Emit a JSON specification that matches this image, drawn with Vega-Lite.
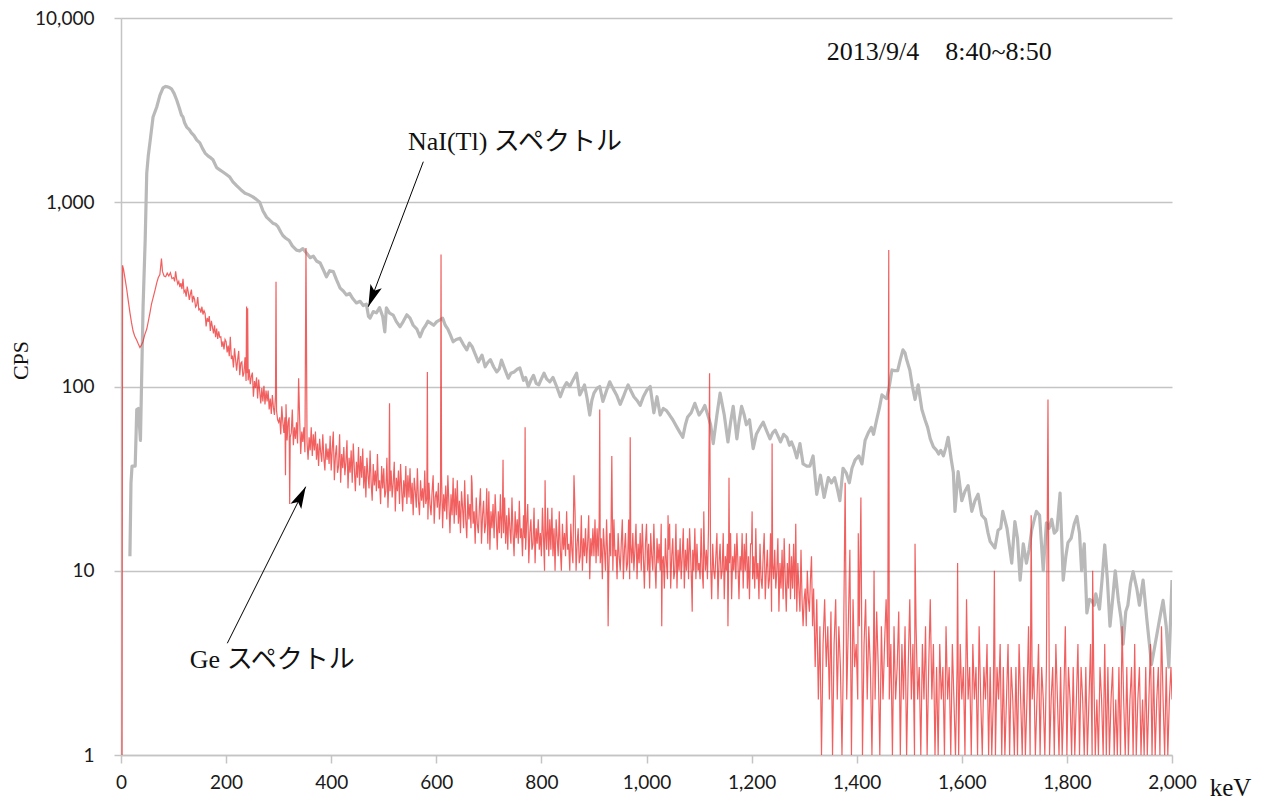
{
  "$schema": "https://vega.github.io/schema/vega-lite/v6.json",
  "width": 1051,
  "height": 737,
  "autosize": {"type": "none"},
  "padding": {"left": 121, "top": 18, "right": 94, "bottom": 50},
  "background": "white",
  "config": {"view": {"stroke": null}},
  "datasets": {
    "nai": [
      {"keV":17,"cps":12},{"keV":19,"cps":30},{"keV":21,"cps":37},{"keV":27,"cps":37},{"keV":30,"cps":75},{"keV":33,"cps":76},{"keV":37,"cps":51},{"keV":39,"cps":100},{"keV":42,"cps":270},{"keV":46,"cps":620},{"keV":49,"cps":1440},{"keV":52,"cps":1800},{"keV":55,"cps":2100},{"keV":61,"cps":2900},{"keV":68,"cps":3290},{"keV":74,"cps":3800},{"keV":80,"cps":4170},{"keV":85,"cps":4250},{"keV":89,"cps":4230},{"keV":93,"cps":4180},{"keV":96,"cps":4130},{"keV":101,"cps":3900},{"keV":106,"cps":3590},{"keV":111,"cps":3250},{"keV":115,"cps":2975},{"keV":118,"cps":2900},{"keV":121,"cps":2700},{"keV":125,"cps":2560},{"keV":130,"cps":2480},{"keV":134,"cps":2380},{"keV":139,"cps":2300},{"keV":144,"cps":2180},{"keV":150,"cps":2100},{"keV":155,"cps":1960},{"keV":160,"cps":1850},{"keV":166,"cps":1780},{"keV":171,"cps":1740},{"keV":175,"cps":1700},{"keV":182,"cps":1540},{"keV":188,"cps":1500},{"keV":194,"cps":1460},{"keV":200,"cps":1420},{"keV":207,"cps":1370},{"keV":213,"cps":1290},{"keV":220,"cps":1230},{"keV":228,"cps":1170},{"keV":236,"cps":1120},{"keV":243,"cps":1100},{"keV":251,"cps":1070},{"keV":257,"cps":1040},{"keV":264,"cps":1000},{"keV":270,"cps":900},{"keV":277,"cps":830},{"keV":283,"cps":800},{"keV":289,"cps":770},{"keV":294,"cps":760},{"keV":299,"cps":735},{"keV":304,"cps":690},{"keV":308,"cps":660},{"keV":313,"cps":640},{"keV":320,"cps":620},{"keV":326,"cps":580},{"keV":334,"cps":550},{"keV":340,"cps":545},{"keV":346,"cps":560},{"keV":353,"cps":530},{"keV":360,"cps":500},{"keV":366,"cps":510},{"keV":372,"cps":480},{"keV":379,"cps":468},{"keV":385,"cps":430},{"keV":391,"cps":394},{"keV":397,"cps":425},{"keV":404,"cps":420},{"keV":410,"cps":380},{"keV":417,"cps":342},{"keV":423,"cps":330},{"keV":429,"cps":314},{"keV":435,"cps":320},{"keV":441,"cps":300},{"keV":448,"cps":284},{"keV":455,"cps":290},{"keV":461,"cps":275},{"keV":467,"cps":280},{"keV":471,"cps":240},{"keV":474,"cps":235},{"keV":480,"cps":255},{"keV":486,"cps":251},{"keV":492,"cps":268},{"keV":498,"cps":240},{"keV":502,"cps":198},{"keV":505,"cps":267},{"keV":511,"cps":250},{"keV":518,"cps":244},{"keV":524,"cps":225},{"keV":531,"cps":211},{"keV":537,"cps":225},{"keV":544,"cps":245},{"keV":550,"cps":235},{"keV":556,"cps":215},{"keV":563,"cps":205},{"keV":569,"cps":186},{"keV":575,"cps":205},{"keV":580,"cps":215},{"keV":584,"cps":226},{"keV":590,"cps":220},{"keV":595,"cps":215},{"keV":601,"cps":225},{"keV":607,"cps":230},{"keV":612,"cps":235},{"keV":617,"cps":215},{"keV":622,"cps":205},{"keV":627,"cps":190},{"keV":632,"cps":175},{"keV":638,"cps":180},{"keV":645,"cps":183},{"keV":651,"cps":170},{"keV":658,"cps":158},{"keV":663,"cps":172},{"keV":668,"cps":165},{"keV":674,"cps":150},{"keV":680,"cps":136},{"keV":687,"cps":148},{"keV":693,"cps":128},{"keV":698,"cps":135},{"keV":703,"cps":140},{"keV":709,"cps":128},{"keV":715,"cps":120},{"keV":720,"cps":125},{"keV":724,"cps":139},{"keV":730,"cps":125},{"keV":737,"cps":111},{"keV":742,"cps":118},{"keV":748,"cps":120},{"keV":754,"cps":124},{"keV":759,"cps":126},{"keV":766,"cps":108},{"keV":770,"cps":112},{"keV":775,"cps":100},{"keV":780,"cps":108},{"keV":785,"cps":115},{"keV":790,"cps":104},{"keV":795,"cps":102},{"keV":800,"cps":110},{"keV":805,"cps":118},{"keV":810,"cps":110},{"keV":816,"cps":106},{"keV":822,"cps":112},{"keV":829,"cps":100},{"keV":836,"cps":88},{"keV":842,"cps":98},{"keV":848,"cps":105},{"keV":854,"cps":100},{"keV":860,"cps":108},{"keV":867,"cps":118},{"keV":873,"cps":90},{"keV":878,"cps":96},{"keV":882,"cps":102},{"keV":887,"cps":86},{"keV":892,"cps":70},{"keV":896,"cps":84},{"keV":900,"cps":92},{"keV":906,"cps":98},{"keV":911,"cps":100},{"keV":917,"cps":83},{"keV":924,"cps":95},{"keV":930,"cps":106},{"keV":936,"cps":98},{"keV":943,"cps":90},{"keV":950,"cps":80},{"keV":956,"cps":88},{"keV":961,"cps":96},{"keV":965,"cps":102},{"keV":971,"cps":94},{"keV":976,"cps":88},{"keV":982,"cps":84},{"keV":988,"cps":79},{"keV":994,"cps":88},{"keV":1001,"cps":96},{"keV":1007,"cps":100},{"keV":1014,"cps":72},{"keV":1020,"cps":88},{"keV":1026,"cps":70},{"keV":1032,"cps":76},{"keV":1038,"cps":74},{"keV":1044,"cps":70},{"keV":1050,"cps":66},{"keV":1058,"cps":60},{"keV":1064,"cps":56},{"keV":1069,"cps":53},{"keV":1074,"cps":62},{"keV":1078,"cps":68},{"keV":1085,"cps":72},{"keV":1092,"cps":81},{"keV":1100,"cps":70},{"keV":1106,"cps":74},{"keV":1111,"cps":79},{"keV":1118,"cps":68},{"keV":1122,"cps":62},{"keV":1127,"cps":49},{"keV":1134,"cps":70},{"keV":1140,"cps":92},{"keV":1148,"cps":70},{"keV":1155,"cps":50},{"keV":1160,"cps":64},{"keV":1165,"cps":78},{"keV":1172,"cps":52},{"keV":1176,"cps":64},{"keV":1181,"cps":78},{"keV":1186,"cps":70},{"keV":1190,"cps":62},{"keV":1196,"cps":66},{"keV":1203,"cps":46},{"keV":1209,"cps":55},{"keV":1216,"cps":60},{"keV":1222,"cps":64},{"keV":1228,"cps":58},{"keV":1235,"cps":52},{"keV":1240,"cps":56},{"keV":1245,"cps":58},{"keV":1250,"cps":54},{"keV":1255,"cps":50},{"keV":1261,"cps":55},{"keV":1267,"cps":53},{"keV":1272,"cps":48},{"keV":1276,"cps":50},{"keV":1281,"cps":46},{"keV":1286,"cps":41},{"keV":1292,"cps":49},{"keV":1298,"cps":38},{"keV":1305,"cps":37},{"keV":1311,"cps":37},{"keV":1317,"cps":42},{"keV":1324,"cps":26},{"keV":1331,"cps":33},{"keV":1338,"cps":25},{"keV":1346,"cps":32},{"keV":1352,"cps":30},{"keV":1358,"cps":32},{"keV":1363,"cps":28},{"keV":1368,"cps":24},{"keV":1374,"cps":36},{"keV":1380,"cps":34},{"keV":1386,"cps":30},{"keV":1391,"cps":36},{"keV":1397,"cps":40},{"keV":1404,"cps":42},{"keV":1410,"cps":38},{"keV":1416,"cps":51},{"keV":1422,"cps":56},{"keV":1428,"cps":60},{"keV":1432,"cps":55},{"keV":1438,"cps":66},{"keV":1443,"cps":76},{"keV":1448,"cps":90},{"keV":1452,"cps":88},{"keV":1457,"cps":86},{"keV":1462,"cps":100},{"keV":1467,"cps":123},{"keV":1472,"cps":122},{"keV":1478,"cps":122},{"keV":1483,"cps":140},{"keV":1488,"cps":158},{"keV":1492,"cps":152},{"keV":1495,"cps":140},{"keV":1501,"cps":123},{"keV":1506,"cps":100},{"keV":1511,"cps":85},{"keV":1517,"cps":102},{"keV":1524,"cps":75},{"keV":1530,"cps":66},{"keV":1535,"cps":60},{"keV":1540,"cps":52},{"keV":1546,"cps":47},{"keV":1552,"cps":45},{"keV":1556,"cps":43},{"keV":1560,"cps":45},{"keV":1565,"cps":42},{"keV":1570,"cps":47},{"keV":1574,"cps":53},{"keV":1580,"cps":40},{"keV":1584,"cps":34},{"keV":1587,"cps":21},{"keV":1593,"cps":34.5},{"keV":1600,"cps":24},{"keV":1606,"cps":27},{"keV":1612,"cps":29},{"keV":1619,"cps":21},{"keV":1625,"cps":24},{"keV":1631,"cps":26},{"keV":1638,"cps":20},{"keV":1645,"cps":19},{"keV":1650,"cps":16},{"keV":1654,"cps":14.4},{"keV":1663,"cps":13.3},{"keV":1669,"cps":16.6},{"keV":1674,"cps":17},{"keV":1678,"cps":21},{"keV":1686,"cps":17},{"keV":1690,"cps":14},{"keV":1695,"cps":11},{"keV":1701,"cps":18.5},{"keV":1706,"cps":15},{"keV":1711,"cps":8.9},{"keV":1717,"cps":14},{"keV":1723,"cps":11},{"keV":1728,"cps":13},{"keV":1733,"cps":16.6},{"keV":1738,"cps":19},{"keV":1742,"cps":21},{"keV":1748,"cps":20},{"keV":1755,"cps":10},{"keV":1761,"cps":18.2},{"keV":1766,"cps":17},{"keV":1771,"cps":19},{"keV":1776,"cps":16},{"keV":1781,"cps":16.6},{"keV":1787,"cps":26.4},{"keV":1793,"cps":8.9},{"keV":1798,"cps":12},{"keV":1802,"cps":14.2},{"keV":1808,"cps":15},{"keV":1814,"cps":18},{"keV":1819,"cps":19.7},{"keV":1824,"cps":16},{"keV":1828,"cps":10},{"keV":1833,"cps":14},{"keV":1838,"cps":5.9},{"keV":1843,"cps":7},{"keV":1847,"cps":6.9},{"keV":1852,"cps":6.5},{"keV":1855,"cps":7.5},{"keV":1862,"cps":6.2},{"keV":1867,"cps":9},{"keV":1872,"cps":13.8},{"keV":1877,"cps":9},{"keV":1882,"cps":5},{"keV":1887,"cps":7},{"keV":1892,"cps":10},{"keV":1898,"cps":6.9},{"keV":1903,"cps":5.5},{"keV":1907,"cps":4},{"keV":1912,"cps":6},{"keV":1916,"cps":6.5},{"keV":1921,"cps":8.5},{"keV":1926,"cps":9.9},{"keV":1933,"cps":8},{"keV":1938,"cps":6.5},{"keV":1945,"cps":8.9},{"keV":1952,"cps":5.5},{"keV":1957,"cps":4},{"keV":1961,"cps":3.1},{"keV":1968,"cps":4},{"keV":1974,"cps":5},{"keV":1979,"cps":6},{"keV":1983,"cps":6.9},{"keV":1989,"cps":5},{"keV":1994,"cps":3},{"keV":2000,"cps":8.9}
    ],
    "ge": [
      {"keV":2,"cps":1},{"keV":3,"cps":455},{"keV":5,"cps":430},{"keV":8,"cps":380},{"keV":11,"cps":335},{"keV":14,"cps":290},{"keV":17,"cps":252},{"keV":20,"cps":222},{"keV":23,"cps":200},{"keV":26,"cps":188},{"keV":30,"cps":178},{"keV":33,"cps":170},{"keV":36,"cps":163},{"keV":39,"cps":168},{"keV":42,"cps":176},{"keV":45,"cps":190},{"keV":49,"cps":205},{"keV":52,"cps":226},{"keV":55,"cps":250},{"keV":58,"cps":280},{"keV":62,"cps":310},{"keV":65,"cps":336},{"keV":68,"cps":365},{"keV":71,"cps":390},{"keV":74,"cps":405},{"keV":77,"cps":495},{"keV":79,"cps":420},{"keV":82,"cps":398},{"keV":85,"cps":394},{"keV":88,"cps":412},{"keV":91,"cps":398},{"keV":94,"cps":415},{"keV":97,"cps":385},
      {"keV":100,"cps":390},{"keV":102,"cps":372},{"keV":104,"cps":422},{"keV":106,"cps":381},{"keV":108,"cps":360},{"keV":110,"cps":372},{"keV":112,"cps":346},{"keV":114,"cps":364},{"keV":116,"cps":338},{"keV":118,"cps":384},{"keV":120,"cps":325},{"keV":122,"cps":333},{"keV":124,"cps":307},{"keV":126,"cps":349},{"keV":128,"cps":325},{"keV":130,"cps":295},{"keV":132,"cps":317},{"keV":134,"cps":336},{"keV":136,"cps":286},{"keV":138,"cps":310},{"keV":140,"cps":297},{"keV":142,"cps":270},{"keV":144,"cps":276},{"keV":146,"cps":306},{"keV":148,"cps":261},{"keV":150,"cps":264},{"keV":152,"cps":252},{"keV":154,"cps":271},{"keV":156,"cps":246},{"keV":158,"cps":258},{"keV":160,"cps":249},{"keV":162,"cps":212},{"keV":164,"cps":236},{"keV":166,"cps":224},{"keV":168,"cps":241},{"keV":170,"cps":200},{"keV":172,"cps":227},{"keV":174,"cps":210},{"keV":176,"cps":194},{"keV":178,"cps":215},{"keV":180,"cps":185},{"keV":182,"cps":206},{"keV":184,"cps":181},{"keV":186,"cps":199},{"keV":188,"cps":185},{"keV":190,"cps":186},{"keV":192,"cps":164},{"keV":194,"cps":176},{"keV":196,"cps":159},{"keV":198,"cps":180},
      {"keV":200,"cps":175},{"keV":202,"cps":153},{"keV":204,"cps":167},{"keV":206,"cps":146},{"keV":208,"cps":186},{"keV":210,"cps":141},{"keV":212,"cps":147},{"keV":214,"cps":127},{"keV":216,"cps":161},{"keV":218,"cps":141},{"keV":220,"cps":122},{"keV":222,"cps":140},{"keV":224,"cps":156},{"keV":226,"cps":115},{"keV":228,"cps":134},{"keV":230,"cps":136},{"keV":232,"cps":113},{"keV":234,"cps":119},{"keV":236,"cps":144},{"keV":238,"cps":107},{"keV":239,"cps":272},{"keV":240,"cps":118},{"keV":241,"cps":266},{"keV":242,"cps":108},{"keV":244,"cps":124},{"keV":246,"cps":103},{"keV":248,"cps":113},{"keV":250,"cps":119},{"keV":252,"cps":88},{"keV":254,"cps":107},{"keV":256,"cps":98},{"keV":258,"cps":112},{"keV":260,"cps":86},{"keV":262,"cps":109},{"keV":264,"cps":94},{"keV":266,"cps":81},{"keV":268,"cps":98},{"keV":270,"cps":83},{"keV":272,"cps":101},{"keV":274,"cps":80},{"keV":276,"cps":95},{"keV":278,"cps":83},{"keV":280,"cps":95},{"keV":282,"cps":75},{"keV":284,"cps":86},{"keV":286,"cps":71},{"keV":288,"cps":90},{"keV":290,"cps":77},{"keV":292,"cps":70},{"keV":294,"cps":89},{"keV":295,"cps":370},{"keV":296,"cps":74},{"keV":298,"cps":66},
      {"keV":300,"cps":64},{"keV":302,"cps":68},{"keV":304,"cps":55},{"keV":306,"cps":78},{"keV":308,"cps":64},{"keV":310,"cps":56},{"keV":312,"cps":68},{"keV":313,"cps":33},{"keV":314,"cps":80},{"keV":316,"cps":51},{"keV":318,"cps":64},{"keV":320,"cps":68},{"keV":321,"cps":23},{"keV":322,"cps":53},{"keV":324,"cps":56},{"keV":326,"cps":75},{"keV":328,"cps":48},{"keV":330,"cps":60},{"keV":332,"cps":52},{"keV":334,"cps":64},{"keV":336,"cps":49},{"keV":338,"cps":111},{"keV":340,"cps":66},{"keV":342,"cps":43},{"keV":344,"cps":57},{"keV":346,"cps":50},{"keV":348,"cps":60},{"keV":350,"cps":44},{"keV":352,"cps":565},{"keV":354,"cps":50},{"keV":356,"cps":40},{"keV":358,"cps":53},{"keV":360,"cps":45},{"keV":362,"cps":60},{"keV":364,"cps":42},{"keV":366,"cps":55},{"keV":368,"cps":45},{"keV":370,"cps":57},{"keV":372,"cps":40},{"keV":374,"cps":49},{"keV":376,"cps":37},{"keV":378,"cps":52},{"keV":380,"cps":44},{"keV":382,"cps":39},{"keV":384,"cps":55},{"keV":386,"cps":41},{"keV":388,"cps":35},{"keV":390,"cps":49},{"keV":392,"cps":40},{"keV":394,"cps":46},{"keV":396,"cps":38},{"keV":398,"cps":54},
      {"keV":400,"cps":35},{"keV":402,"cps":46},{"keV":404,"cps":57},{"keV":406,"cps":31},{"keV":408,"cps":42},{"keV":410,"cps":48},{"keV":412,"cps":34},{"keV":414,"cps":37},{"keV":416,"cps":55},{"keV":418,"cps":30},{"keV":420,"cps":43},{"keV":422,"cps":36},{"keV":424,"cps":47},{"keV":426,"cps":33},{"keV":428,"cps":39},{"keV":430,"cps":51},{"keV":432,"cps":28},{"keV":434,"cps":41},{"keV":436,"cps":34},{"keV":438,"cps":45},{"keV":440,"cps":30},{"keV":442,"cps":49},{"keV":444,"cps":36},{"keV":446,"cps":27},{"keV":448,"cps":39},{"keV":450,"cps":32},{"keV":452,"cps":47},{"keV":454,"cps":29},{"keV":456,"cps":42},{"keV":458,"cps":32},{"keV":460,"cps":46},{"keV":462,"cps":28},{"keV":464,"cps":37},{"keV":466,"cps":25},{"keV":468,"cps":41},{"keV":470,"cps":33},{"keV":472,"cps":28},{"keV":474,"cps":45},{"keV":476,"cps":30},{"keV":478,"cps":24},{"keV":480,"cps":38},{"keV":482,"cps":29},{"keV":484,"cps":35},{"keV":486,"cps":27},{"keV":488,"cps":43},{"keV":490,"cps":28},{"keV":492,"cps":31},{"keV":494,"cps":23},{"keV":496,"cps":37},{"keV":498,"cps":28},
      {"keV":500,"cps":36},{"keV":502,"cps":25},{"keV":504,"cps":27},{"keV":506,"cps":41},{"keV":508,"cps":22},{"keV":510,"cps":32},{"keV":511,"cps":81},{"keV":512,"cps":27},{"keV":514,"cps":35},{"keV":516,"cps":25},{"keV":518,"cps":30},{"keV":520,"cps":39},{"keV":522,"cps":21},{"keV":524,"cps":32},{"keV":526,"cps":27},{"keV":528,"cps":35},{"keV":530,"cps":23},{"keV":532,"cps":38},{"keV":534,"cps":28},{"keV":536,"cps":21},{"keV":538,"cps":31},{"keV":540,"cps":25},{"keV":542,"cps":37},{"keV":544,"cps":23},{"keV":546,"cps":33},{"keV":548,"cps":25},{"keV":550,"cps":36},{"keV":552,"cps":23},{"keV":554,"cps":30},{"keV":556,"cps":20},{"keV":558,"cps":32},{"keV":560,"cps":27},{"keV":562,"cps":22},{"keV":564,"cps":36},{"keV":566,"cps":24},{"keV":568,"cps":20},{"keV":570,"cps":31},{"keV":572,"cps":24},{"keV":574,"cps":28},{"keV":576,"cps":22},{"keV":578,"cps":35},{"keV":580,"cps":23},{"keV":582,"cps":25},{"keV":583,"cps":120},{"keV":584,"cps":19},{"keV":586,"cps":30},{"keV":588,"cps":23},{"keV":590,"cps":20},{"keV":592,"cps":27},{"keV":594,"cps":33},{"keV":596,"cps":18},{"keV":598,"cps":25},
      {"keV":600,"cps":27},{"keV":602,"cps":22},{"keV":604,"cps":30},{"keV":606,"cps":19},{"keV":608,"cps":24},{"keV":609,"cps":520},{"keV":610,"cps":33},{"keV":612,"cps":17},{"keV":614,"cps":26},{"keV":616,"cps":21},{"keV":618,"cps":29},{"keV":620,"cps":19},{"keV":622,"cps":33},{"keV":624,"cps":23},{"keV":626,"cps":16},{"keV":628,"cps":26},{"keV":630,"cps":20},{"keV":632,"cps":32},{"keV":634,"cps":18},{"keV":636,"cps":28},{"keV":638,"cps":20},{"keV":640,"cps":31},{"keV":642,"cps":18},{"keV":644,"cps":24},{"keV":646,"cps":16},{"keV":648,"cps":27},{"keV":650,"cps":22},{"keV":652,"cps":17},{"keV":654,"cps":31},{"keV":656,"cps":19},{"keV":658,"cps":15},{"keV":660,"cps":26},{"keV":662,"cps":19},{"keV":664,"cps":23},{"keV":666,"cps":17},{"keV":667,"cps":33},{"keV":668,"cps":30},{"keV":670,"cps":18},{"keV":672,"cps":21},{"keV":674,"cps":14},{"keV":676,"cps":25},{"keV":678,"cps":18},{"keV":680,"cps":16},{"keV":682,"cps":22},{"keV":684,"cps":28},{"keV":686,"cps":14},{"keV":688,"cps":20},{"keV":690,"cps":24},{"keV":692,"cps":16},{"keV":694,"cps":18},{"keV":696,"cps":28},{"keV":698,"cps":14},
      {"keV":700,"cps":27},{"keV":702,"cps":13},{"keV":704,"cps":21},{"keV":706,"cps":17},{"keV":708,"cps":23},{"keV":710,"cps":15},{"keV":712,"cps":26},{"keV":714,"cps":19},{"keV":716,"cps":13},{"keV":718,"cps":21},{"keV":720,"cps":16},{"keV":722,"cps":26},{"keV":724,"cps":15},{"keV":726,"cps":22},{"keV":727,"cps":40},{"keV":728,"cps":16},{"keV":730,"cps":25},{"keV":732,"cps":14},{"keV":734,"cps":20},{"keV":736,"cps":13},{"keV":738,"cps":22},{"keV":740,"cps":17},{"keV":742,"cps":14},{"keV":744,"cps":25},{"keV":746,"cps":16},{"keV":748,"cps":12},{"keV":750,"cps":21},{"keV":752,"cps":15},{"keV":754,"cps":19},{"keV":756,"cps":14},{"keV":758,"cps":24},{"keV":760,"cps":15},{"keV":762,"cps":17},{"keV":764,"cps":12},{"keV":766,"cps":20},{"keV":768,"cps":15},{"keV":769,"cps":60},{"keV":770,"cps":13},{"keV":772,"cps":18},{"keV":774,"cps":23},{"keV":776,"cps":11},{"keV":778,"cps":16},{"keV":780,"cps":19},{"keV":782,"cps":13},{"keV":784,"cps":14},{"keV":786,"cps":22},{"keV":788,"cps":11},{"keV":790,"cps":17},{"keV":792,"cps":14},{"keV":794,"cps":19},{"keV":796,"cps":13},{"keV":798,"cps":16},
      {"keV":800,"cps":12},{"keV":802,"cps":22},{"keV":804,"cps":15},{"keV":806,"cps":10},{"keV":807,"cps":31},{"keV":808,"cps":17},{"keV":810,"cps":13},{"keV":812,"cps":22},{"keV":814,"cps":12},{"keV":816,"cps":19},{"keV":818,"cps":13},{"keV":820,"cps":22},{"keV":822,"cps":12},{"keV":824,"cps":17},{"keV":826,"cps":10},{"keV":828,"cps":19},{"keV":830,"cps":15},{"keV":832,"cps":12},{"keV":834,"cps":21},{"keV":836,"cps":13},{"keV":838,"cps":10},{"keV":840,"cps":18},{"keV":842,"cps":13},{"keV":844,"cps":16},{"keV":846,"cps":12},{"keV":848,"cps":21},{"keV":850,"cps":13},{"keV":852,"cps":14},{"keV":854,"cps":10},{"keV":856,"cps":18},{"keV":858,"cps":13},{"keV":860,"cps":11},{"keV":862,"cps":33},{"keV":864,"cps":21},{"keV":866,"cps":10},{"keV":868,"cps":14},{"keV":870,"cps":17},{"keV":872,"cps":11},{"keV":874,"cps":12},{"keV":876,"cps":20},{"keV":878,"cps":10},{"keV":880,"cps":15},{"keV":882,"cps":12},{"keV":884,"cps":17},{"keV":886,"cps":11},{"keV":888,"cps":14},{"keV":890,"cps":20},{"keV":892,"cps":9},{"keV":894,"cps":15},{"keV":896,"cps":12},{"keV":898,"cps":17},
      {"keV":900,"cps":12},{"keV":902,"cps":19},{"keV":904,"cps":11},{"keV":906,"cps":17},{"keV":908,"cps":12},{"keV":910,"cps":19},{"keV":911,"cps":75},{"keV":912,"cps":11},{"keV":914,"cps":15},{"keV":916,"cps":9},{"keV":918,"cps":17},{"keV":920,"cps":13},{"keV":922,"cps":10},{"keV":924,"cps":19},{"keV":926,"cps":12},{"keV":927,"cps":5},{"keV":928,"cps":9},{"keV":930,"cps":16},{"keV":932,"cps":12},{"keV":934,"cps":42},{"keV":936,"cps":10},{"keV":938,"cps":19},{"keV":940,"cps":12},{"keV":942,"cps":13},{"keV":944,"cps":9},{"keV":946,"cps":16},{"keV":948,"cps":12},{"keV":950,"cps":10},{"keV":952,"cps":14},{"keV":954,"cps":19},{"keV":956,"cps":9},{"keV":958,"cps":13},{"keV":960,"cps":16},{"keV":962,"cps":10},{"keV":964,"cps":11},{"keV":966,"cps":19},{"keV":968,"cps":9},{"keV":969,"cps":53},{"keV":970,"cps":14},{"keV":972,"cps":11},{"keV":974,"cps":16},{"keV":976,"cps":10},{"keV":978,"cps":13},{"keV":980,"cps":18},{"keV":982,"cps":9},{"keV":984,"cps":14},{"keV":986,"cps":11},{"keV":988,"cps":16},{"keV":990,"cps":10},{"keV":992,"cps":18},{"keV":994,"cps":12},{"keV":996,"cps":8},{"keV":998,"cps":14},
      {"keV":1000,"cps":18},{"keV":1002,"cps":10},{"keV":1004,"cps":14},{"keV":1006,"cps":8},{"keV":1008,"cps":16},{"keV":1010,"cps":12},{"keV":1012,"cps":10},{"keV":1014,"cps":18},{"keV":1016,"cps":11},{"keV":1018,"cps":8},{"keV":1020,"cps":15},{"keV":1022,"cps":11},{"keV":1024,"cps":14},{"keV":1026,"cps":10},{"keV":1028,"cps":18},{"keV":1029,"cps":5},{"keV":1030,"cps":11},{"keV":1032,"cps":12},{"keV":1034,"cps":8},{"keV":1036,"cps":15},{"keV":1038,"cps":11},{"keV":1040,"cps":9},{"keV":1041,"cps":20},{"keV":1042,"cps":13},{"keV":1044,"cps":18},{"keV":1046,"cps":8},{"keV":1048,"cps":12},{"keV":1050,"cps":15},{"keV":1052,"cps":9},{"keV":1054,"cps":10},{"keV":1056,"cps":18},{"keV":1058,"cps":8},{"keV":1060,"cps":13},{"keV":1062,"cps":10},{"keV":1064,"cps":15},{"keV":1066,"cps":9},{"keV":1068,"cps":12},{"keV":1070,"cps":17},{"keV":1072,"cps":8},{"keV":1074,"cps":13},{"keV":1076,"cps":10},{"keV":1078,"cps":15},{"keV":1080,"cps":9},{"keV":1082,"cps":17},{"keV":1084,"cps":12},{"keV":1086,"cps":8},{"keV":1087,"cps":6},{"keV":1088,"cps":13},{"keV":1090,"cps":10},{"keV":1092,"cps":17},{"keV":1094,"cps":9},{"keV":1096,"cps":14},{"keV":1098,"cps":10},
      {"keV":1100,"cps":11},{"keV":1102,"cps":9},{"keV":1104,"cps":17},{"keV":1106,"cps":10},{"keV":1108,"cps":8},{"keV":1109,"cps":21},{"keV":1110,"cps":14},{"keV":1112,"cps":10},{"keV":1114,"cps":13},{"keV":1116,"cps":9},{"keV":1118,"cps":17},{"keV":1120,"cps":118},{"keV":1122,"cps":11},{"keV":1124,"cps":7},{"keV":1126,"cps":14},{"keV":1128,"cps":10},{"keV":1130,"cps":9},{"keV":1132,"cps":12},{"keV":1134,"cps":16},{"keV":1136,"cps":7},{"keV":1138,"cps":11},{"keV":1140,"cps":14},{"keV":1142,"cps":9},{"keV":1144,"cps":10},{"keV":1146,"cps":16},{"keV":1148,"cps":7},{"keV":1150,"cps":12},{"keV":1152,"cps":10},{"keV":1154,"cps":14},{"keV":1155,"cps":5},{"keV":1156,"cps":9},{"keV":1157,"cps":32},{"keV":1158,"cps":11},{"keV":1160,"cps":16},{"keV":1162,"cps":7},{"keV":1164,"cps":12},{"keV":1166,"cps":10},{"keV":1168,"cps":14},{"keV":1170,"cps":9},{"keV":1172,"cps":16},{"keV":1174,"cps":11},{"keV":1176,"cps":7},{"keV":1178,"cps":12},{"keV":1180,"cps":10},{"keV":1182,"cps":16},{"keV":1184,"cps":8},{"keV":1186,"cps":14},{"keV":1188,"cps":10},{"keV":1190,"cps":16},{"keV":1192,"cps":8},{"keV":1194,"cps":12},{"keV":1196,"cps":7},{"keV":1198,"cps":14},
      {"keV":1200,"cps":14},{"keV":1201,"cps":21},{"keV":1202,"cps":9},{"keV":1204,"cps":12},{"keV":1206,"cps":8},{"keV":1208,"cps":17},{"keV":1210,"cps":9},{"keV":1212,"cps":11},{"keV":1214,"cps":7},{"keV":1216,"cps":14},{"keV":1218,"cps":9},{"keV":1220,"cps":8},{"keV":1222,"cps":12},{"keV":1224,"cps":16},{"keV":1226,"cps":7},{"keV":1228,"cps":10},{"keV":1230,"cps":13},{"keV":1232,"cps":8},{"keV":1234,"cps":9},{"keV":1236,"cps":16},{"keV":1238,"cps":6},{"keV":1239,"cps":49},{"keV":1240,"cps":11},{"keV":1242,"cps":9},{"keV":1244,"cps":13},{"keV":1246,"cps":8},{"keV":1248,"cps":10},{"keV":1250,"cps":15},{"keV":1252,"cps":6},{"keV":1254,"cps":11},{"keV":1256,"cps":8},{"keV":1258,"cps":13},{"keV":1260,"cps":7},{"keV":1262,"cps":15},{"keV":1264,"cps":9},{"keV":1266,"cps":6},{"keV":1268,"cps":11},{"keV":1270,"cps":8},{"keV":1272,"cps":14},{"keV":1274,"cps":7},{"keV":1276,"cps":12},{"keV":1278,"cps":8},{"keV":1280,"cps":14},{"keV":1282,"cps":7},{"keV":1284,"cps":18},{"keV":1286,"cps":6},{"keV":1288,"cps":11},{"keV":1290,"cps":8},{"keV":1292,"cps":6},{"keV":1294,"cps":13},{"keV":1296,"cps":7},{"keV":1298,"cps":5},{"keV":1300,"cps":7},{"keV":1302,"cps":8},{"keV":1304,"cps":5},{"keV":1306,"cps":10},{"keV":1308,"cps":7},{"keV":1310,"cps":6},{"keV":1312,"cps":9},{"keV":1314,"cps":12},{"keV":1316,"cps":5},{"keV":1318,"cps":8},
      {"keV":1321,"cps":3},{"keV":1324,"cps":7},{"keV":1327,"cps":2},{"keV":1330,"cps":5},{"keV":1333,"cps":1},{"keV":1336,"cps":4},{"keV":1339,"cps":7},{"keV":1342,"cps":3},{"keV":1345,"cps":5},{"keV":1348,"cps":2},{"keV":1351,"cps":6},{"keV":1354,"cps":1},{"keV":1357,"cps":4},{"keV":1360,"cps":7},{"keV":1363,"cps":2},{"keV":1366,"cps":5},{"keV":1369,"cps":3},{"keV":1372,"cps":1},{"keV":1375,"cps":4},{"keV":1378,"cps":30},{"keV":1381,"cps":2},{"keV":1384,"cps":5},{"keV":1387,"cps":13},{"keV":1390,"cps":1},{"keV":1393,"cps":7},{"keV":1396,"cps":3},{"keV":1399,"cps":4},{"keV":1402,"cps":2},{"keV":1403,"cps":16},{"keV":1405,"cps":5},{"keV":1408,"cps":25},{"keV":1411,"cps":1},{"keV":1414,"cps":4},{"keV":1417,"cps":7},{"keV":1420,"cps":2},{"keV":1423,"cps":5},{"keV":1426,"cps":3},{"keV":1429,"cps":1},{"keV":1432,"cps":4},{"keV":1433,"cps":10},{"keV":1435,"cps":2},{"keV":1438,"cps":6},{"keV":1441,"cps":3},{"keV":1444,"cps":1},{"keV":1447,"cps":5},{"keV":1450,"cps":2},{"keV":1453,"cps":4},{"keV":1456,"cps":7},{"keV":1459,"cps":3},{"keV":1461,"cps":550},{"keV":1462,"cps":2},{"keV":1465,"cps":4},{"keV":1468,"cps":1},{"keV":1471,"cps":5},{"keV":1474,"cps":2},{"keV":1477,"cps":3},{"keV":1480,"cps":6},{"keV":1483,"cps":1},{"keV":1486,"cps":4},{"keV":1489,"cps":2},{"keV":1492,"cps":5},{"keV":1495,"cps":1},{"keV":1498,"cps":3},{"keV":1501,"cps":7},{"keV":1504,"cps":2},{"keV":1507,"cps":4},{"keV":1510,"cps":1},{"keV":1511,"cps":14},{"keV":1513,"cps":5},{"keV":1516,"cps":2},{"keV":1519,"cps":3},{"keV":1522,"cps":1},{"keV":1525,"cps":4},{"keV":1528,"cps":2},{"keV":1531,"cps":5},{"keV":1534,"cps":1},{"keV":1537,"cps":3},{"keV":1540,"cps":7},{"keV":1543,"cps":2},{"keV":1546,"cps":4},{"keV":1549,"cps":1},
      {"keV":1552,"cps":3},{"keV":1555,"cps":1},{"keV":1558,"cps":4},{"keV":1561,"cps":2},{"keV":1564,"cps":3},{"keV":1567,"cps":1},{"keV":1570,"cps":5},{"keV":1573,"cps":2},{"keV":1576,"cps":3},{"keV":1579,"cps":1},{"keV":1582,"cps":4},{"keV":1585,"cps":2},{"keV":1588,"cps":1},{"keV":1591,"cps":3},{"keV":1592,"cps":11},{"keV":1594,"cps":1},{"keV":1597,"cps":4},{"keV":1600,"cps":2},{"keV":1603,"cps":3},{"keV":1606,"cps":1},{"keV":1609,"cps":7},{"keV":1612,"cps":2},{"keV":1615,"cps":3},{"keV":1618,"cps":1},{"keV":1621,"cps":4},{"keV":1624,"cps":2},{"keV":1627,"cps":3},{"keV":1630,"cps":1},{"keV":1633,"cps":5},{"keV":1636,"cps":2},{"keV":1639,"cps":1},{"keV":1642,"cps":3},{"keV":1645,"cps":2},{"keV":1648,"cps":4},{"keV":1651,"cps":1},{"keV":1654,"cps":3},{"keV":1657,"cps":1},{"keV":1660,"cps":2},{"keV":1662,"cps":10},{"keV":1664,"cps":1},{"keV":1667,"cps":3},{"keV":1670,"cps":2},{"keV":1673,"cps":4},{"keV":1676,"cps":1},{"keV":1679,"cps":3},{"keV":1682,"cps":1},{"keV":1685,"cps":2},{"keV":1688,"cps":4},{"keV":1691,"cps":1},{"keV":1694,"cps":3},{"keV":1697,"cps":2},{"keV":1700,"cps":1},{"keV":1703,"cps":3},{"keV":1706,"cps":1},{"keV":1709,"cps":4},{"keV":1712,"cps":2},{"keV":1715,"cps":1},{"keV":1718,"cps":3},{"keV":1721,"cps":1},{"keV":1724,"cps":2},{"keV":1727,"cps":5},{"keV":1730,"cps":1},{"keV":1732,"cps":20},{"keV":1734,"cps":2},{"keV":1737,"cps":3},{"keV":1740,"cps":1},{"keV":1743,"cps":2},{"keV":1746,"cps":4},{"keV":1749,"cps":1},{"keV":1752,"cps":3},{"keV":1755,"cps":2},{"keV":1758,"cps":1},{"keV":1761,"cps":3},{"keV":1764,"cps":85},{"keV":1767,"cps":1},{"keV":1770,"cps":2},{"keV":1773,"cps":3},{"keV":1776,"cps":1},{"keV":1779,"cps":4},{"keV":1782,"cps":2},{"keV":1785,"cps":1},{"keV":1788,"cps":3},{"keV":1791,"cps":1},{"keV":1794,"cps":2},{"keV":1797,"cps":5},{"keV":1800,"cps":1},
      {"keV":1803,"cps":3},{"keV":1806,"cps":2},{"keV":1809,"cps":1},{"keV":1812,"cps":3},{"keV":1815,"cps":1},{"keV":1818,"cps":2},{"keV":1821,"cps":4},{"keV":1824,"cps":1},{"keV":1827,"cps":3},{"keV":1830,"cps":2},{"keV":1833,"cps":1},{"keV":1836,"cps":3},{"keV":1839,"cps":1},{"keV":1842,"cps":2},{"keV":1845,"cps":4},{"keV":1848,"cps":1},{"keV":1849,"cps":10},{"keV":1851,"cps":3},{"keV":1854,"cps":1},{"keV":1857,"cps":2},{"keV":1860,"cps":1},{"keV":1863,"cps":3},{"keV":1866,"cps":2},{"keV":1869,"cps":1},{"keV":1872,"cps":4},{"keV":1875,"cps":1},{"keV":1878,"cps":3},{"keV":1881,"cps":1},{"keV":1884,"cps":2},{"keV":1887,"cps":3},{"keV":1890,"cps":1},{"keV":1893,"cps":2},{"keV":1896,"cps":1},{"keV":1899,"cps":3},{"keV":1902,"cps":1},{"keV":1905,"cps":5},{"keV":1908,"cps":2},{"keV":1911,"cps":1},{"keV":1914,"cps":3},{"keV":1917,"cps":1},{"keV":1920,"cps":2},{"keV":1923,"cps":3},{"keV":1926,"cps":1},{"keV":1929,"cps":4},{"keV":1932,"cps":1},{"keV":1935,"cps":2},{"keV":1938,"cps":3},{"keV":1941,"cps":1},{"keV":1944,"cps":2},{"keV":1947,"cps":1},{"keV":1950,"cps":3},{"keV":1953,"cps":1},{"keV":1956,"cps":2},{"keV":1959,"cps":4},{"keV":1962,"cps":1},{"keV":1965,"cps":3},{"keV":1968,"cps":1},{"keV":1971,"cps":2},{"keV":1974,"cps":3},{"keV":1977,"cps":1},{"keV":1980,"cps":5},{"keV":1983,"cps":2},{"keV":1986,"cps":1},{"keV":1989,"cps":3},{"keV":1992,"cps":1},{"keV":1995,"cps":2},{"keV":1998,"cps":3},{"keV":2000,"cps":2}
    ],
    "notes": [
      {"keV":546,"cps":2120,"label":"NaI(Tl) スペクトル"},
      {"keV":131,"cps":3.28,"label":"Ge スペクトル"},
      {"keV":1343,"cps":6560,"label":"2013/9/4　8:40~8:50"}
    ],
    "arrows": [
      {"name":"nai","keV":575.3,"cps":1660,"keV2":470.6,"cps2":271},
      {"name":"ge","keV":202.3,"cps":4.04,"keV2":351.5,"cps2":28.6}
    ]
  },
  "encoding": {
    "x": {
      "field": "keV", "type": "quantitative",
      "scale": {"domain": [0, 2000], "nice": false, "zero": false},
      "axis": {
        "values": [0,200,400,600,800,1000,1200,1400,1600,1800,2000],
        "format": ",.0f", "grid": false,
        "domain": true, "domainColor": "#c4c4c4", "domainWidth": 1.5,
        "ticks": true, "tickColor": "#c4c4c4", "tickSize": 8, "tickWidth": 1.5,
        "labelFont": "Lato", "labelFontSize": 19, "labelColor": "#1a1a1a", "labelPadding": 10, "labelFlush": false,
        "title": "keV", "titleFont": "Liberation Serif", "titleFontSize": 25, "titleFontWeight": "normal", "titleColor": "#111111",
        "titleX": 1109, "titleY": 32, "titleAlign": "center", "titleBaseline": "middle"
      }
    },
    "y": {
      "field": "cps", "type": "quantitative",
      "scale": {"type": "log", "domain": [1, 10000], "nice": false},
      "axis": {
        "values": [1,10,100,1000,10000],
        "format": ",.0f", "grid": true, "gridColor": "#c4c4c4", "gridWidth": 1.5,
        "domain": true, "domainColor": "#c4c4c4", "domainWidth": 1.5,
        "ticks": true, "tickColor": "#c4c4c4", "tickSize": 7, "tickWidth": 1.5,
        "labelFont": "Lato", "labelFontSize": 19, "labelColor": "#1a1a1a", "labelPadding": 20,
        "title": "CPS", "titleFont": "Liberation Serif", "titleFontSize": 22, "titleFontWeight": "normal", "titleColor": "#111111",
        "titleX": -101, "titleY": 342, "titleAlign": "center", "titleBaseline": "middle", "titleAngle": 270
      }
    }
  },
  "layer": [
    {
      "data": {"name": "nai"},
      "mark": {"type": "line", "color": "#b9b9b9", "strokeWidth": 3.2, "clip": true, "strokeJoin": "round"},
      "encoding": {}
    },
    {
      "data": {"name": "ge"},
      "mark": {"type": "line", "color": "#ec2a2a", "strokeWidth": 1.2, "opacity": 0.75, "clip": true},
      "encoding": {}
    },
    {
      "data": {"name": "arrows"},
      "mark": {"type": "rule", "color": "#000000", "strokeWidth": 1},
      "encoding": {"x2": {"field": "keV2"}, "y2": {"field": "cps2"}}
    },
    {
      "data": {"name": "arrows"},
      "transform": [{"filter": "datum.name === 'nai'"}],
      "mark": {"type": "point", "shape": "M0,0 L-0.55,2 L0,1.55 L0.55,2 Z", "filled": true, "color": "#000000", "opacity": 1, "size": 484, "angle": 200.8},
      "encoding": {"x": {"field": "keV2", "type": "quantitative"}, "y": {"field": "cps2", "type": "quantitative"}}
    },
    {
      "data": {"name": "arrows"},
      "transform": [{"filter": "datum.name === 'ge'"}],
      "mark": {"type": "point", "shape": "M0,0 L-0.55,2 L0,1.55 L0.55,2 Z", "filled": true, "color": "#000000", "opacity": 1, "size": 484, "angle": 26.6},
      "encoding": {"x": {"field": "keV2", "type": "quantitative"}, "y": {"field": "cps2", "type": "quantitative"}}
    },
    {
      "data": {"name": "notes"},
      "mark": {"type": "text", "align": "left", "baseline": "middle", "font": "Liberation Serif, Noto Sans CJK JP", "fontSize": 26, "color": "#111111"},
      "encoding": {"text": {"field": "label"}}
    }
  ]
}
